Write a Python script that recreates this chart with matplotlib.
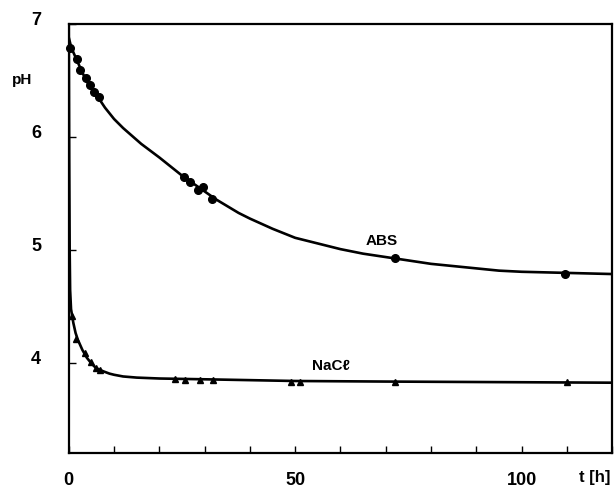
import matplotlib
matplotlib.use("Agg")
import matplotlib.pyplot as plt
import matplotlib.transforms as mtransforms

plt.rcParams.update({
    "font.family": ["Liberation Sans", "DejaVu Sans"],
    "font.weight": "bold",
})

# measured points (time in h, pH)
abs_t = [0.2, 1.8, 2.4, 3.8, 4.6, 5.5, 6.6, 25.4, 26.7, 28.5, 29.6, 31.6, 72, 109.5]
abs_ph = [6.79, 6.69, 6.59, 6.52, 6.46, 6.40, 6.35, 5.65, 5.60, 5.53, 5.56, 5.45, 4.93, 4.79]

nacl_t = [0.7, 1.7, 3.5, 5.0, 6.1, 6.8, 23.4, 25.6, 28.9, 31.8, 49, 51, 72, 110]
nacl_ph = [4.42, 4.22, 4.09, 4.01, 3.96, 3.94, 3.86, 3.85, 3.85, 3.85, 3.84, 3.84, 3.84, 3.84]

# fitted curves as drawn in the figure
abs_curve_t = [0, 0.5, 1, 2, 3, 4, 5, 6, 7, 8, 9, 10, 12, 14, 16, 18, 20, 22.5, 25, 27.5,
               30, 32.5, 35, 37.5, 40, 45, 50, 55, 60, 65, 70, 75, 80, 85, 90, 95, 100, 110, 120]
abs_curve_ph = [6.88, 6.80, 6.75, 6.66, 6.57, 6.49, 6.43, 6.37, 6.32, 6.26, 6.21, 6.16, 6.08,
                6.01, 5.94, 5.88, 5.82, 5.74, 5.66, 5.59, 5.52, 5.45, 5.39, 5.33, 5.28, 5.19,
                5.11, 5.06, 5.01, 4.97, 4.94, 4.91, 4.88, 4.86, 4.84, 4.82, 4.81, 4.80, 4.79]

nacl_curve_t = [0, 0.1, 0.2, 0.3, 0.5, 1, 1.5, 2, 3, 4, 5, 6, 7, 8, 9, 10, 12, 15, 20, 30,
                50, 70, 120]
nacl_curve_ph = [7.0, 5.8, 5.0, 4.65, 4.48, 4.36, 4.27, 4.21, 4.12, 4.05, 4.0, 3.96, 3.94,
                 3.925, 3.91, 3.90, 3.885, 3.875, 3.867, 3.86, 3.845, 3.84, 3.83]

fig = plt.figure(figsize=(6.14, 4.88), dpi=100)
ax = fig.add_axes([0.112, 0.072, 0.885, 0.879])

ax.plot(abs_curve_t, abs_curve_ph, color="black", lw=1.9, solid_joinstyle="round")
ax.plot(nacl_curve_t, nacl_curve_ph, color="black", lw=1.9, solid_joinstyle="round")
ax.plot(abs_t, abs_ph, "o", color="black", ms=5.5, clip_on=False)
ax.plot(nacl_t, nacl_ph, "^", color="black", ms=4.5, clip_on=False)

ax.set_xlim(0, 120)
ax.set_ylim(3.21, 7)

xt = list(range(0, 121, 10))
ax.set_xticks(xt)
ax.set_xticklabels([str(v) if v in (0, 50, 100) else "" for v in xt])
ax.set_yticks([4, 5, 6, 7])
ax.set_yticklabels(["4", "5", "6", "7"])
ax.tick_params(axis="both", direction="in", length=5, width=1, labelsize=13)
ax.tick_params(axis="x", pad=14)
ax.tick_params(axis="y", pad=20)
up = mtransforms.ScaledTranslation(0, 4 / 72, fig.dpi_scale_trans)
for lbl in ax.get_yticklabels():
    lbl.set_transform(lbl.get_transform() + up)
for lbl in ax.get_xticklabels() + ax.get_yticklabels():
    lbl.set_fontweight("bold")

for sp in ax.spines.values():
    sp.set_linewidth(1.6)

ax.text(69, 5.08, "ABS", fontsize=11, fontweight="bold", ha="center", va="center")
ax.text(58, 3.98, "NaCℓ", fontsize=11, fontweight="bold", ha="center", va="center")

fig.text(0.036, 0.836, "pH", fontsize=11, fontweight="bold", ha="center", va="center")
fig.text(0.969, 0.022, "t [h]", fontsize=12, fontweight="bold", ha="center", va="center")

fig.savefig("out.png", dpi=100)
